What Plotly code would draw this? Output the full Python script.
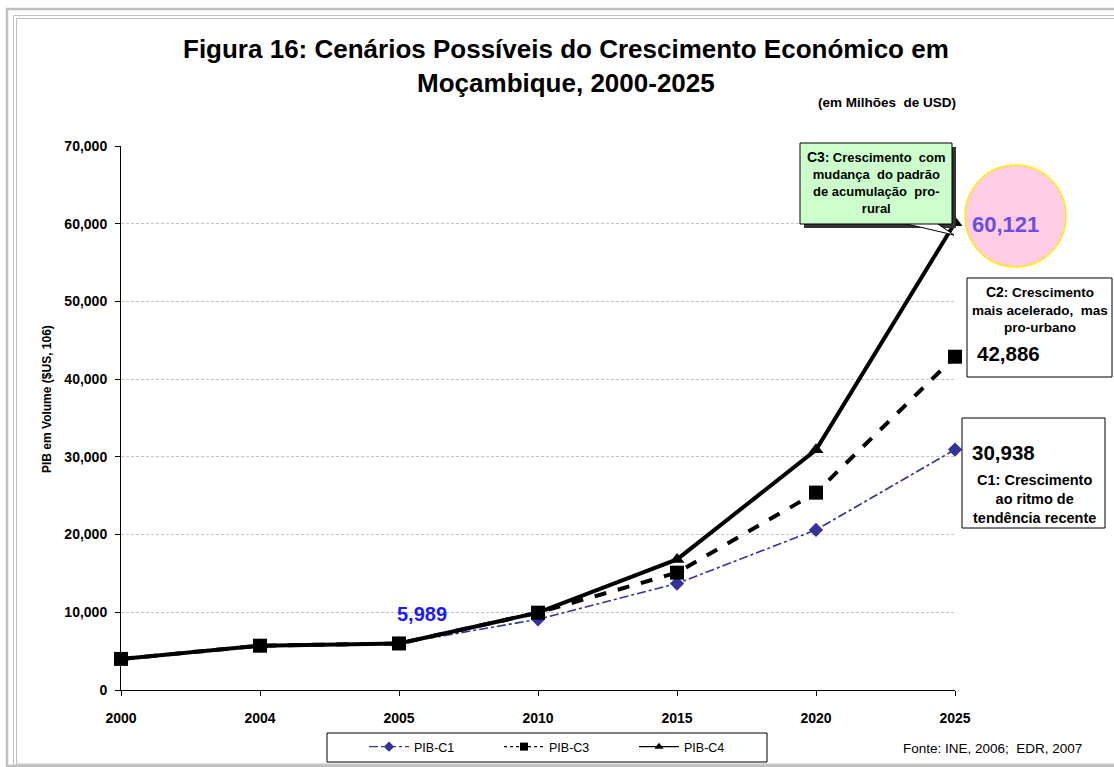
import plotly.graph_objects as go

# ---------------- data ----------------
years = ["2000", "2004", "2005", "2010", "2015", "2020", "2025"]
pib_c1 = [4000, 5700, 5989, 9100, 13700, 20600, 30938]
pib_c3 = [4000, 5700, 5989, 9950, 15100, 25400, 42886]
pib_c4 = [4000, 5700, 5989, 9950, 16800, 30900, 60121]
y_ticks = [0, 10000, 20000, 30000, 40000, 50000, 60000, 70000]

# ---------------- layout geometry ----------------
W, H = 1114, 767
L, R, T, B = 121, 955, 146, 690   # plot area in pixels
FONT = "Liberation Sans, Arial, sans-serif"


def px(x):
    return (x - L) / (R - L)


def py(y):
    return (B - y) / (B - T)


xi = list(range(len(years)))
fig = go.Figure()

# real traces (not in legend)
fig.add_trace(go.Scatter(x=xi, y=pib_c1, mode="lines+markers", showlegend=False,
                         line=dict(color="#333399", width=1.6, dash="dashdot"),
                         marker=dict(symbol="diamond", size=11, color="#333399"),
                         cliponaxis=False))
fig.add_trace(go.Scatter(x=xi, y=pib_c4, mode="lines+markers", showlegend=False,
                         line=dict(color="black", width=4),
                         marker=dict(symbol="triangle-up", size=13, color="black"),
                         cliponaxis=False))
fig.add_trace(go.Scatter(x=xi, y=pib_c3, mode="lines+markers", showlegend=False,
                         line=dict(color="black", width=4, dash="dash"),
                         marker=dict(symbol="square", size=14, color="black"),
                         cliponaxis=False))

# legend entries
fig.add_trace(go.Scatter(x=[None], y=[None], mode="lines+markers", name="PIB-C1",
                         line=dict(color="#333399", width=1.2, dash="dashdot"),
                         marker=dict(symbol="diamond", size=8, color="#333399")))
fig.add_trace(go.Scatter(x=[None], y=[None], mode="lines+markers", name="PIB-C3",
                         line=dict(color="black", width=1.2, dash="dot"),
                         marker=dict(symbol="square", size=8, color="black")))
fig.add_trace(go.Scatter(x=[None], y=[None], mode="lines+markers", name="PIB-C4",
                         line=dict(color="black", width=1.2),
                         marker=dict(symbol="triangle-up", size=8, color="black")))

shapes = []
# outer frame lines
shapes.append(dict(type="rect", xref="paper", yref="paper", x0=px(7), x1=px(1130),
                   y0=py(9), y1=py(766), line=dict(color="#c0c0c0", width=2.5)))
shapes.append(dict(type="rect", xref="paper", yref="paper", x0=px(13.5), x1=px(1125),
                   y0=py(15.5), y1=py(765), line=dict(color="#c0c0c0", width=1)))
shapes.append(dict(type="rect", xref="paper", yref="paper", x0=px(16.5), x1=px(1122),
                   y0=py(18.5), y1=py(764), line=dict(color="#c0c0c0", width=1)))

# legend frame
shapes.append(dict(type="rect", xref="paper", yref="paper", x0=px(327), x1=px(767),
                   y0=py(733), y1=py(762), fillcolor="white", line=dict(color="black", width=1)))

# C3 callout: shadow, tail, box
shapes.append(dict(type="rect", xref="paper", yref="paper", x0=px(804), x1=px(956),
                   y0=py(147), y1=py(228), fillcolor="#333333", line=dict(width=0)))
shapes.append(dict(type="path", xref="paper", yref="paper",
                   path="M {},{} L {},{} L {},{} Z".format(px(898), py(222), px(935), py(222), px(954), py(235)),
                   fillcolor="white", line=dict(color="black", width=1)))
shapes.append(dict(type="rect", xref="paper", yref="paper", x0=px(800), x1=px(952),
                   y0=py(143), y1=py(224), fillcolor="#CCFFCC", line=dict(color="black", width=1)))

# pink circle
shapes.append(dict(type="circle", xref="paper", yref="paper", x0=px(965), x1=px(1066),
                   y0=py(165), y1=py(267), fillcolor="#FFCCE5", line=dict(color="#FFEE00", width=1.5)))

# C2 box
shapes.append(dict(type="rect", xref="paper", yref="paper", x0=px(967), x1=px(1112),
                   y0=py(278), y1=py(377), fillcolor="white", line=dict(color="black", width=1)))
# C1 box
shapes.append(dict(type="rect", xref="paper", yref="paper", x0=px(962), x1=px(1105),
                   y0=py(418), y1=py(528), fillcolor="white", line=dict(color="black", width=1)))


def ann(text, x, y, size=12, color="black", bold=True, xanchor="center", yanchor="middle",
        align="center", angle=0):
    return dict(text=text, xref="paper", yref="paper", x=px(x), y=py(y), showarrow=False,
                xanchor=xanchor, yanchor=yanchor, align=align, textangle=angle,
                font=dict(family=FONT, size=size, color=color, weight="bold" if bold else "normal"))


annotations = [
    ann("Figura 16: Cenários Possíveis do Crescimento Económico em<br>Moçambique, 2000-2025",
        566, 66, size=26),
    ann("(em Milhões  de USD)", 958, 102, size=13.5, xanchor="right"),
    ann("PIB em Volume ($US, 106)", 47, 399, size=12, angle=-90),
    ann("5,989", 422, 614, size=20, color="#1a1aff"),
    ann("<span style='font-size:14px'>C3</span>: Crescimento  com<br>mudança  do padrão<br>de acumulação  pro-<br>rural",
        876, 182, size=13),
    ann("60,121", 1005, 224, size=22, color="#6B4FE0"),
    ann("<span style='font-size:14px'>C2</span>: Crescimento<br>mais acelerado,  mas<br>pro-urbano",
        1040, 309, size=13.5),
    ann("42,886", 1008, 353, size=20.5),
    ann("30,938", 1003, 452, size=20.5),
    ann("C1: Crescimento<br>ao ritmo de<br>tendência recente", 1034, 499, size=14.5),
    ann("Fonte: INE, 2006;  EDR, 2007", 992, 748, size=13.5, bold=False),
]

fig.update_layout(
    width=W, height=H,
    margin=dict(l=L, r=W - R, t=T, b=H - B, pad=0, autoexpand=False),
    paper_bgcolor="white", plot_bgcolor="white",
    font=dict(family=FONT, color="black"),
    shapes=shapes,
    annotations=annotations,
    xaxis=dict(range=[0, len(years) - 1], tickvals=xi, ticktext=years, automargin=False,
               showgrid=False, zeroline=False, showline=True, linecolor="black", linewidth=1,
               ticks="outside", ticklen=5, tickcolor="black", ticklabelstandoff=10,
               tickfont=dict(family=FONT, size=14, weight="bold")),
    yaxis=dict(range=[0, 70000], tickvals=y_ticks, tickformat=",", automargin=False,
               showgrid=True, gridcolor="#c4c4c4", griddash="3px,2px", gridwidth=1,
               zeroline=False, showline=True, linecolor="black", linewidth=1,
               ticks="outside", ticklen=5, tickcolor="black", ticklabelstandoff=5,
               tickfont=dict(family=FONT, size=14, weight="bold")),
    legend=dict(orientation="h", xref="container", yref="container",
                x=364 / W, y=1 - 747 / H, xanchor="left", yanchor="middle",
                borderwidth=0, bgcolor="rgba(0,0,0,0)",
                font=dict(family=FONT, size=12.5), entrywidth=80, entrywidthmode="pixels",
                itemwidth=40),
    showlegend=True,
)

fig.write_html("out.html")
